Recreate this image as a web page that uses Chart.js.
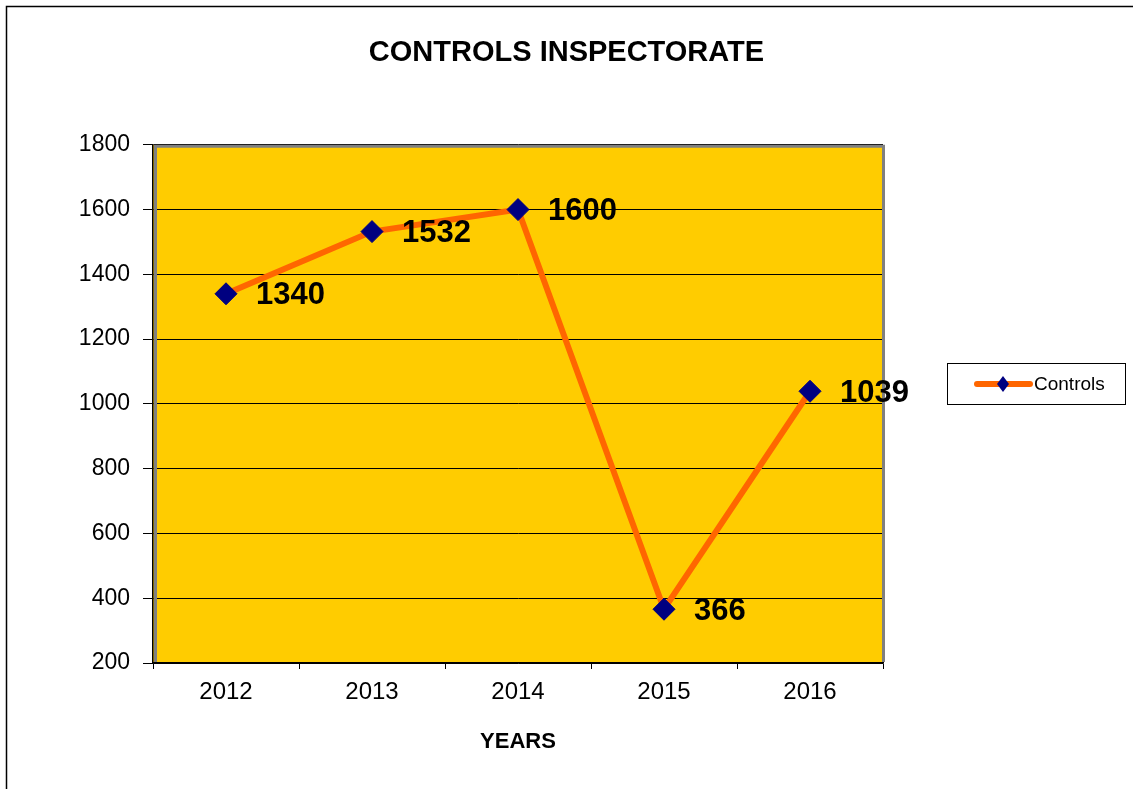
<!DOCTYPE html>
<html>
<head>
<meta charset="utf-8">
<script src="https://cdn.jsdelivr.net/npm/chart.js@4/dist/chart.umd.min.js"></script>
<style>
  html, body { margin: 0; padding: 0; background: #fff; }
  #wrap { width: 1133px; height: 789px; }
</style>
</head>
<body>
<div id="wrap"><canvas id="grafico"></canvas></div>
<script>
var anos = ["2012", "2013", "2014", "2015", "2016"];
var controles = [1340, 1532, 1600, 366, 1039];
var nomeSerie = "Controls";
var titulo = "CONTROLS INSPECTORATE";
var tituloX = "YEARS";

var fonte = "'Liberation Sans', Arial, sans-serif";
var laranja = "#FF6600";
var azul = "#000080";

// fundo, moldura externa e area amarela
var fundo = {
  id: "fundo",
  beforeDraw: function (chart) {
    var ctx = chart.ctx, a = chart.chartArea;
    ctx.save();
    ctx.fillStyle = "#fff";
    ctx.fillRect(0, 0, chart.width, chart.height);
    ctx.strokeStyle = "#000";
    ctx.lineWidth = 1.5;
    ctx.beginPath();
    ctx.moveTo(6.5, chart.height);
    ctx.lineTo(6.5, 6.5);
    ctx.lineTo(chart.width, 6.5);
    ctx.stroke();
    ctx.fillStyle = "#FFCC00";
    ctx.fillRect(a.left, a.top, a.right - a.left, a.bottom - a.top);
    ctx.restore();
  },
  beforeDatasetsDraw: function (chart) {
    var ctx = chart.ctx, a = chart.chartArea;
    ctx.save();
    ctx.strokeStyle = "#808080";
    ctx.lineWidth = 3;
    ctx.beginPath();
    ctx.moveTo(a.left + 2.5, a.bottom - 1);
    ctx.lineTo(a.left + 2.5, a.top + 1.5);
    ctx.lineTo(a.right + 0.5, a.top + 1.5);
    ctx.lineTo(a.right + 0.5, a.bottom - 1);
    ctx.stroke();
    ctx.restore();
  }
};

// rotulos de valor e legenda com caixa
var rotulos = {
  id: "rotulos",
  afterDatasetsDraw: function (chart) {
    var ctx = chart.ctx;
    var meta = chart.getDatasetMeta(0);
    ctx.save();
    ctx.fillStyle = "#000";
    ctx.font = "bold 31px " + fonte;
    ctx.textAlign = "left";
    ctx.textBaseline = "middle";
    meta.data.forEach(function (p, i) {
      ctx.fillText(chart.data.datasets[0].data[i], p.x + 30, p.y + 2);
    });

    // legenda
    ctx.strokeStyle = "#000";
    ctx.lineWidth = 1;
    ctx.strokeRect(947.5, 363.5, 178, 41);
    ctx.strokeStyle = laranja;
    ctx.lineWidth = 6;
    ctx.lineCap = "round";
    ctx.beginPath();
    ctx.moveTo(977, 384);
    ctx.lineTo(1030, 384);
    ctx.stroke();
    ctx.fillStyle = azul;
    ctx.beginPath();
    ctx.moveTo(1003, 376);
    ctx.lineTo(1009, 384);
    ctx.lineTo(1003, 392);
    ctx.lineTo(997, 384);
    ctx.closePath();
    ctx.fill();
    ctx.fillStyle = "#000";
    ctx.font = "19px " + fonte;
    ctx.fillText(chart.data.datasets[0].label, 1034, 385);
    ctx.restore();
  }
};

new Chart(document.getElementById("grafico").getContext("2d"), {
  type: "line",
  data: {
    labels: anos,
    datasets: [{
      label: nomeSerie,
      data: controles,
      borderColor: laranja,
      borderWidth: 6,
      tension: 0,
      pointStyle: "rectRot",
      pointRadius: 11,
      pointHoverRadius: 11,
      pointBackgroundColor: azul,
      pointBorderColor: azul,
      pointBorderWidth: 1
    }]
  },
  options: {
    responsive: true,
    maintainAspectRatio: false,
    animation: false,
    layout: { padding: 0 },
    plugins: {
      legend: { display: false },
      tooltip: { enabled: false },
      title: {
        display: true,
        text: titulo,
        color: "#000",
        font: { family: fonte, size: 29, weight: "bold" },
        padding: { top: 36, bottom: 74 }
      }
    },
    scales: {
      x: {
        offset: true,
        grid: { offset: true, drawOnChartArea: false, color: "#000", tickLength: 6 },
        border: { color: "#000", width: 1.5 },
        ticks: { color: "#000", font: { family: fonte, size: 24 }, padding: 9 },
        title: {
          display: true,
          text: tituloX,
          color: "#000",
          font: { family: fonte, size: 22, weight: "bold" },
          padding: { top: 0, bottom: 34 }
        },
        afterFit: function (s) { s.height = 126; }
      },
      y: {
        min: 200,
        max: 1800,
        ticks: {
          stepSize: 200,
          color: "#000",
          font: { family: fonte, size: 23 },
          padding: 13,
          callback: function (v) { return String(v); }
        },
        grid: { color: "#000", tickLength: 10 },
        border: { color: "#000", width: 1.5 },
        afterFit: function (s) { s.width = 153; }
      },
      lado: {
        position: "right",
        display: true,
        grid: { display: false },
        ticks: { display: false },
        border: { display: false },
        afterFit: function (s) { s.width = 250; }
      }
    }
  },
  plugins: [fundo, rotulos]
});
</script>
</body>
</html>
